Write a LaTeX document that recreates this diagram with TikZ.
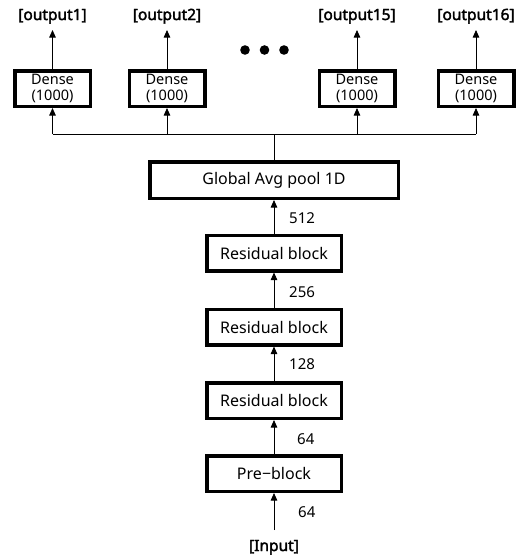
\documentclass[tikz,border=0pt]{standalone}
\usepackage{fontspec}
\setmainfont{Noto Sans}
\newfontfamily\lblfont{Noto Sans}[FakeBold=2.2]
\usetikzlibrary{arrows.meta}
\begin{document}
\begin{tikzpicture}[x=1pt,y=-1pt,
  blk/.style={draw, line width=3.5pt, fill=white, inner sep=0pt, font=\fontsize{16}{18}\selectfont},
  dense/.style={blk, minimum width=75.5pt, minimum height=35.5pt, align=center, font=\fontsize{14.5}{16.5}\selectfont},
  wide/.style={blk, minimum width=248.5pt, minimum height=36.5pt},
  res/.style={blk, minimum width=134.5pt, minimum height=35.5pt},
  lbl/.style={font=\lblfont\fontsize{15.5}{17}\selectfont, inner sep=0pt, anchor=base},
  num/.style={font=\fontsize{15}{17}\selectfont, anchor=west, inner sep=0pt},
  arr/.style={line width=0.8pt, -{Triangle[width=6.5pt,length=7.5pt]}},
  ln/.style={line width=0.8pt}]
\useasboundingbox (0,0) rectangle (527,558);

% dense boxes
\node[dense] (d1) at (52.5,88.5) {Dense\\(1000)};
\node[dense] (d2) at (167,88.5) {Dense\\(1000)};
\node[dense] (d3) at (357,88.5) {Dense\\(1000)};
\node[dense] (d4) at (476,88.5) {Dense\\(1000)};

% output labels
\node[lbl] (o1) at (52.5,20) {[output1]};
\node[lbl] (o2) at (167,20) {[output2]};
\node[lbl] (o3) at (357,20) {[output15]};
\node[lbl] (o4) at (476,20) {[output16]};

% dots
\fill (245,50) circle (4.8pt);
\fill (264.5,50) circle (4.8pt);
\fill (284,50) circle (4.8pt);

% main column
\node[wide] (g) at (274,180) {Global Avg pool 1D};
\node[res] (r1) at (274,253) {Residual block};
\node[res] (r2) at (274,327) {Residual block};
\node[res] (r3) at (274,400.5) {Residual block};
\node[res] (p) at (274,473.5) {Pre−block};
\node[lbl] (in) at (274,551) {[Input]};
\coordinate (inTop) at (274,530);

% junction coordinates
\coordinate (j0) at (274,134);
\coordinate (j1) at (52.5,134);
\coordinate (j2) at (167,134);
\coordinate (j3) at (357,134);
\coordinate (j4) at (476,134);

% connectors
\draw[ln] (g.north) -- (j0);
\draw[ln] (j1) -- (j4);
\draw[arr] (j1) -- (d1.south);
\draw[arr] (j2) -- (d2.south);
\draw[arr] (j3) -- (d3.south);
\draw[arr] (j4) -- (d4.south);
\draw[arr] (d1.north) -- ([yshift=-10pt]o1.base);
\draw[arr] (d2.north) -- ([yshift=-10pt]o2.base);
\draw[arr] (d3.north) -- ([yshift=-10pt]o3.base);
\draw[arr] (d4.north) -- ([yshift=-10pt]o4.base);

\draw[arr] (r1.north) -- (g.south);
\draw[arr] (r2.north) -- (r1.south);
\draw[arr] (r3.north) -- (r2.south);
\draw[arr] (p.north) -- (r3.south);
\draw[arr] (inTop) -- (p.south);

% numbers
\node[num] (n512) at (289,218) {512};
\node[num] (n256) at (289,292) {256};
\node[num] (n128) at (289,364) {128};
\node[num] (n64a) at (297,439) {64};
\node[num] (n64b) at (298,512) {64};
\end{tikzpicture}
\end{document}
